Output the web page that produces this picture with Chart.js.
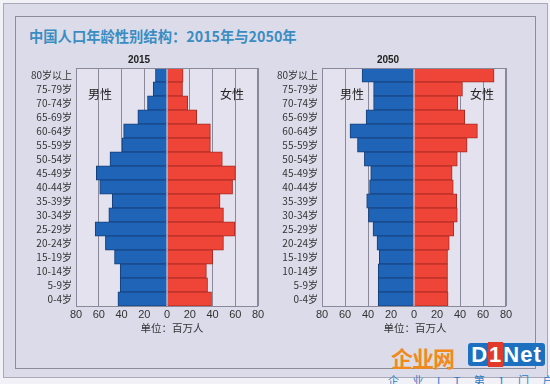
<!DOCTYPE html>
<html>
<head>
<meta charset="utf-8">
<script src="https://cdn.jsdelivr.net/npm/chart.js@4.4.1/dist/chart.umd.min.js"></script>
<style>
  html,body{margin:0;padding:0;}
  body{width:550px;height:384px;background:#f2f1f7;position:relative;overflow:hidden;font-family:"Noto Sans CJK SC","Noto Sans",sans-serif;}
  #outer{position:absolute;left:3px;top:3px;width:543px;height:373px;background:#dcdbe9;border:1px solid #a9a8b6;}
  #inner{position:absolute;left:15px;top:16px;width:519px;height:351px;border:1px solid #8d8c9b;}
  #title{position:absolute;left:29px;top:25px;font-size:14.3px;font-weight:bold;color:#3a8dc2;white-space:nowrap;}
  canvas{position:absolute;}
  .lbl{position:absolute;font-size:12px;color:#222;transform:translate(-50%,-50%);white-space:nowrap;}
  .unit{position:absolute;font-size:10.5px;color:#333;transform:translate(-50%,-50%);white-space:nowrap;}
  #wm1{position:absolute;left:391px;top:341px;font-size:22px;font-weight:bold;color:#f08a1c;letter-spacing:-1px;white-space:nowrap;}
  #wm2{position:absolute;left:468px;top:343px;width:77px;height:23px;background:#1d6fc0;border-radius:3px;color:#fff;font-family:"Liberation Sans",Arial,sans-serif;font-weight:bold;font-size:22px;line-height:23px;text-align:center;letter-spacing:1px;}
  #wm2 span{color:#fff;background:#e23a2a;padding:0 1px;}
  #wm3{position:absolute;left:388px;top:372px;font-size:11px;color:#2f7cc4;letter-spacing:13.5px;white-space:nowrap;}
</style>
</head>
<body>
<div id="outer"></div>
<div id="inner"></div>
<div id="title">中国人口年龄性别结构：2015年与2050年</div>
<canvas id="c1" width="250" height="274" style="left:20px;top:50px;"></canvas>
<canvas id="c2" width="250" height="274" style="left:270px;top:50px;"></canvas>
<div class="lbl" style="left:100px;top:93px;">男性</div>
<div class="lbl" style="left:232px;top:93px;">女性</div>
<div class="lbl" style="left:352px;top:93px;">男性</div>
<div class="lbl" style="left:482px;top:93px;">女性</div>
<div class="unit" style="left:172px;top:327px;">单位：百万人</div>
<div class="unit" style="left:415px;top:327px;">单位：百万人</div>
<div id="wm1">企业网</div>
<div id="wm2">D<span>1</span>Net</div>
<div id="wm3">企业IT第1门户</div>
<script>
// Age groups, top to bottom
const ageGroups = ["80岁以上","75-79岁","70-74岁","65-69岁","60-64岁","55-59岁","50-54岁","45-49岁","40-44岁","35-39岁","30-34岁","25-29岁","20-24岁","15-19岁","10-14岁","5-9岁","0-4岁"];
// Population, millions
const male2015   = [10, 12, 17, 25.5, 38, 39.5, 50, 62, 59, 48, 51, 63, 54, 46, 41, 41, 43];
const female2015 = [14, 13.5, 18, 26, 38, 38, 48.5, 60, 57.5, 46.5, 49.5, 59.5, 49.5, 40, 34.5, 35.5, 39];
const male2050   = [45, 35, 35, 41.5, 55.5, 49, 43, 37.5, 38.5, 41, 39.5, 35.5, 32, 30, 31, 31, 31];
const female2050 = [69.5, 42, 38, 44, 55, 46, 37.5, 33, 34, 37, 37.5, 34.5, 30.5, 29, 29, 29, 29.5];
const xTicks = [-80, -60, -40, -20, 0, 20, 40, 60, 80];
const yearTitles = ["2015", "2050"];

const BLUE = "#1f64b6", BLUE_B = "#163f78";
const RED = "#ef4538", RED_B = "#a82a22";

const framePlugin = {
  id: "frame",
  beforeDraw(chart) {
    const a = chart.chartArea, ctx = chart.ctx;
    ctx.save();
    ctx.fillStyle = "#e3e2ee";
    ctx.fillRect(a.left, a.top, a.right - a.left, a.bottom - a.top);
    ctx.restore();
  },
  afterDraw(chart) {
    const a = chart.chartArea, ctx = chart.ctx;
    ctx.save();
    ctx.strokeStyle = "#8a8999";
    ctx.lineWidth = 1;
    ctx.strokeRect(Math.round(a.left) + 0.5, Math.round(a.top) + 0.5, Math.round(a.right - a.left) - 1, Math.round(a.bottom - a.top));
    ctx.restore();
  }
};

function makeChart(id, title, male, female, yWidth, padRight) {
  return new Chart(document.getElementById(id), {
    type: "bar",
    data: {
      labels: ageGroups,
      datasets: [
        { label: "男性", data: male.map(v => -v), backgroundColor: BLUE, borderColor: BLUE_B, borderWidth: 1, inflateAmount: 0.5, categoryPercentage: 1, barPercentage: 1 },
        { label: "女性", data: female, backgroundColor: RED, borderColor: RED_B, borderWidth: 1, inflateAmount: 0.5, categoryPercentage: 1, barPercentage: 1 }
      ]
    },
    options: {
      indexAxis: "y",
      responsive: false,
      animation: false,
      devicePixelRatio: 1,
      layout: { padding: { left: 0, right: padRight, top: 0, bottom: 0 } },
      plugins: {
        legend: { display: false },
        tooltip: { enabled: false },
        title: { display: true, text: title, color: "#222", font: { family: "Liberation Sans, Arial, sans-serif", size: 10, weight: "bold" }, padding: { top: 4, bottom: 2 } }
      },
      scales: {
        x: {
          stacked: true,
          min: -80, max: 80,
          afterBuildTicks(scale) { scale.ticks = xTicks.map(v => ({ value: v })); },
          afterFit(scale) { scale.height = 18; },
          ticks: { callback: v => Math.abs(v), color: "#333", font: { family: "Liberation Sans, Arial, sans-serif", size: 11 }, padding: 2, maxRotation: 0 },
          grid: { color: ctx => (ctx.tick && ctx.tick.value === 0) ? "rgba(0,0,0,0)" : "#8a8999", lineWidth: 1, drawTicks: false },
          border: { display: false }
        },
        y: {
          stacked: true,
          afterFit(scale) { scale.width = yWidth; },
          ticks: { color: "#333", font: { family: "Noto Sans CJK SC, sans-serif", size: 10 }, padding: 4, autoSkip: false },
          grid: { display: false, drawTicks: false },
          border: { display: false }
        }
      }
    },
    plugins: [framePlugin]
  });
}

makeChart("c1", yearTitles[0], male2015, female2015, 56, 12);
makeChart("c2", yearTitles[1], male2050, female2050, 52, 14);
</script>
</body>
</html>
